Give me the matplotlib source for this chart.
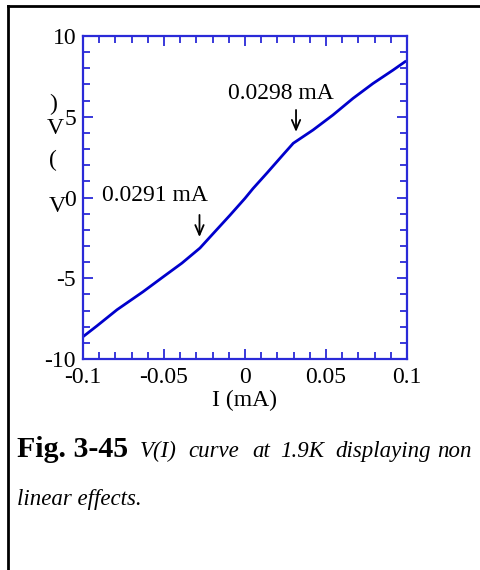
import matplotlib
matplotlib.use("Agg")
import matplotlib.pyplot as plt
from matplotlib.lines import Line2D

# ---------------- DATA ----------------
current_mA = [-0.1, -0.0914, -0.079, -0.063, -0.0506, -0.0389, -0.0278, -0.0198,
              -0.0093, 0.0, 0.0049, 0.0136, 0.0235, 0.0298, 0.042, 0.0543,
              0.0667, 0.079, 0.0914, 0.0988]
voltage_V = [-8.62, -7.95, -6.95, -5.84, -4.92, -4.06, -3.13, -2.25,
             -1.10, -0.05, 0.55, 1.52, 2.65, 3.36, 4.18, 5.11,
             6.14, 7.06, 7.89, 8.41]

x_ticks = [-0.1, -0.05, 0, 0.05, 0.1]
x_tick_labels = ["-0.1", "-0.05", "0", "0.05", "0.1"]
y_ticks = [-10, -5, 0, 5, 10]
y_tick_labels = ["-10", "-5", "0", "5", "10"]

# annotation: label, text position, arrow tail, arrow head
notes = [
    ("0.0298 mA", (0.0222, 6.1), (0.0315, 5.42), (0.0315, 4.06)),
    ("0.0291 mA", (-0.0556, -0.22), (-0.0281, -1.08), (-0.0281, -2.45)),
]
# --------------------------------------

SERIF = "Liberation Serif"
BLUE = "#0000cc"
AXBLUE = "#2a2ad8"

plt.rcParams["font.family"] = [SERIF, "DejaVu Serif"]
plt.rcParams["axes.unicode_minus"] = False

W, H = 480, 570
fig = plt.figure(figsize=(W / 100, H / 100), dpi=100)

# axes box in pixels: left 83, right 407, top 36, bottom 359
ax = fig.add_axes([83 / W, 1 - 359 / H, 324 / W, 323 / H])

ax.plot(current_mA, voltage_V, color=BLUE, lw=2.0)

ax.set_xlim(-0.1, 0.1)
ax.set_ylim(-10, 10)
ax.set_xticks(x_ticks)
ax.set_xticklabels(x_tick_labels)
ax.set_yticks(y_ticks)
ax.set_yticklabels(y_tick_labels)
ax.set_xticks([i / 100 for i in range(-10, 11)], minor=True)
ax.set_yticks(list(range(-10, 11)), minor=True)

ax.tick_params(which="both", direction="in", top=True, right=True,
               color=AXBLUE, width=1.3, labelsize=17, labelcolor="black")
ax.tick_params(which="major", length=7.5)
ax.tick_params(which="minor", length=5)
ax.tick_params(axis="x", pad=6)
ax.tick_params(axis="y", pad=5)
for sp in ax.spines.values():
    sp.set_color(AXBLUE)
    sp.set_linewidth(1.6)

ax.set_xlabel("I (mA)", fontsize=17, labelpad=1)

# garbled y label, one character at a time
for ch, px, py in [(")", 53, 104), ("V", 55, 129), ("(", 53, 160), ("V", 57, 206)]:
    fig.text(px / W, 1 - py / H, ch, fontsize=17, ha="center", va="center")

for label, txt, tail, head in notes:
    ax.text(txt[0], txt[1], label, fontsize=17, ha="center", va="baseline")
    ax.annotate("", xy=head, xytext=tail,
                arrowprops=dict(arrowstyle="->,head_width=0.3,head_length=0.7",
                                lw=1.3, color="black", shrinkA=0, shrinkB=0))

# frame lines of the page
fig.add_artist(Line2D([8 / W, 8 / W], [0, 1 - 6 / H], color="black", lw=2.0,
                      transform=fig.transFigure))
fig.add_artist(Line2D([8 / W, 1], [1 - 6 / H, 1 - 6 / H], color="black", lw=2.0,
                      transform=fig.transFigure))

# caption
fig.text(17 / W, 1 - 457 / H, "Fig. 3-45", fontsize=21.5, fontweight="bold",
         va="baseline")
for word, px in [("V(I)", 140), ("curve", 188), ("at", 252), ("1.9K", 280),
                 ("displaying", 335), ("non", 437)]:
    fig.text(px / W, 1 - 457 / H, word, fontsize=16.5, style="italic",
             va="baseline")
fig.text(17 / W, 1 - 505 / H, "linear effects.", fontsize=16.5, style="italic",
         va="baseline")

fig.savefig("out.png", dpi=100)
